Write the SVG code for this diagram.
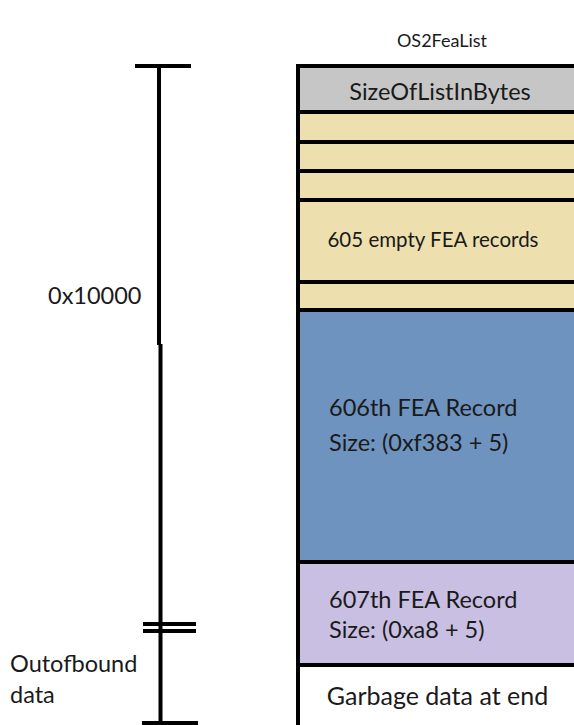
<svg xmlns="http://www.w3.org/2000/svg" width="574" height="725" viewBox="0 0 574 725">
  <style>
    text { font-family: Lato, "Open Sans", "Liberation Sans", sans-serif; fill: #1a1a1a; }
    .rule { stroke: #000; stroke-width: 4; fill: none; }
    .sep { stroke: #000; stroke-width: 4; }
    .hdr { fill: #c6c6c6; }
    .fea { fill: #eee0ae; }
    .big { fill: #6f93bf; }
    .nxt { fill: #c9bfe3; }
    .end { fill: #ffffff; }
    .lbl { font-size: 23.5px; }
  </style>
  <rect width="574" height="725" fill="#fff"/>

  <text x="442" y="47" font-size="18" text-anchor="middle">OS2FeaList</text>

  <!-- FEA list layout -->
  <g id="size-of-list">
    <rect class="hdr" x="298" y="66" width="290" height="46"/>
    <text x="440" y="100" font-size="23.5" text-anchor="middle">SizeOfListInBytes</text>
  </g>
  <g id="fea-1"><rect class="fea" x="298" y="112" width="290" height="30"/></g>
  <g id="fea-2"><rect class="fea" x="298" y="142" width="290" height="29"/></g>
  <g id="fea-3"><rect class="fea" x="298" y="171" width="290" height="29"/></g>
  <g id="fea-empty">
    <rect class="fea" x="298" y="200" width="290" height="82"/>
    <text x="433" y="247" font-size="20.5" text-anchor="middle">605 empty FEA records</text>
  </g>
  <g id="fea-605"><rect class="fea" x="298" y="282" width="290" height="28"/></g>
  <g id="fea-606">
    <rect class="big" x="298" y="310" width="290" height="252"/>
    <text class="lbl" x="329" y="416">606th FEA Record</text>
    <text class="lbl" x="329" y="451">Size: (0xf383 + 5)</text>
  </g>
  <g id="fea-607">
    <rect class="nxt" x="298" y="562" width="290" height="103"/>
    <text class="lbl" x="329" y="608">607th FEA Record</text>
    <text class="lbl" x="329" y="638">Size: (0xa8 + 5)</text>
  </g>
  <g id="garbage">
    <rect class="end" x="298" y="665" width="290" height="70"/>
    <text x="437.5" y="705" font-size="25" text-anchor="middle">Garbage data at end</text>
  </g>

  <!-- outlines and row separators -->
  <g id="borders">
    <line class="sep" x1="298" y1="66" x2="574" y2="66"/>
    <line class="sep" x1="298" y1="64" x2="298" y2="725"/>
    <line class="sep" x1="298" y1="112" x2="574" y2="112"/>
    <line class="sep" x1="298" y1="142" x2="574" y2="142"/>
    <line class="sep" x1="298" y1="171" x2="574" y2="171"/>
    <line class="sep" x1="298" y1="200" x2="574" y2="200"/>
    <line class="sep" x1="298" y1="282" x2="574" y2="282"/>
    <line class="sep" x1="298" y1="310" x2="574" y2="310"/>
    <line class="sep" x1="298" y1="562" x2="574" y2="562"/>
    <line class="sep" x1="298" y1="665" x2="574" y2="665"/>
  </g>

  <!-- size ruler -->
  <g id="ruler">
    <line class="rule" x1="135" y1="66" x2="191" y2="66"/>
    <line class="rule" x1="159" y1="66" x2="159" y2="345"/>
    <line class="rule" x1="160.5" y1="344" x2="160.5" y2="725"/>
    <line class="rule" x1="143" y1="624" x2="196" y2="624"/>
    <line class="rule" x1="143" y1="631" x2="196" y2="631"/>
    <line class="rule" x1="142" y1="723" x2="198" y2="723"/>
  </g>

  <g id="labels">
    <text class="lbl" x="48" y="304">0x10000</text>
    <text class="lbl" x="10" y="672">Outofbound</text>
    <text class="lbl" x="10" y="703">data</text>
  </g>
</svg>
